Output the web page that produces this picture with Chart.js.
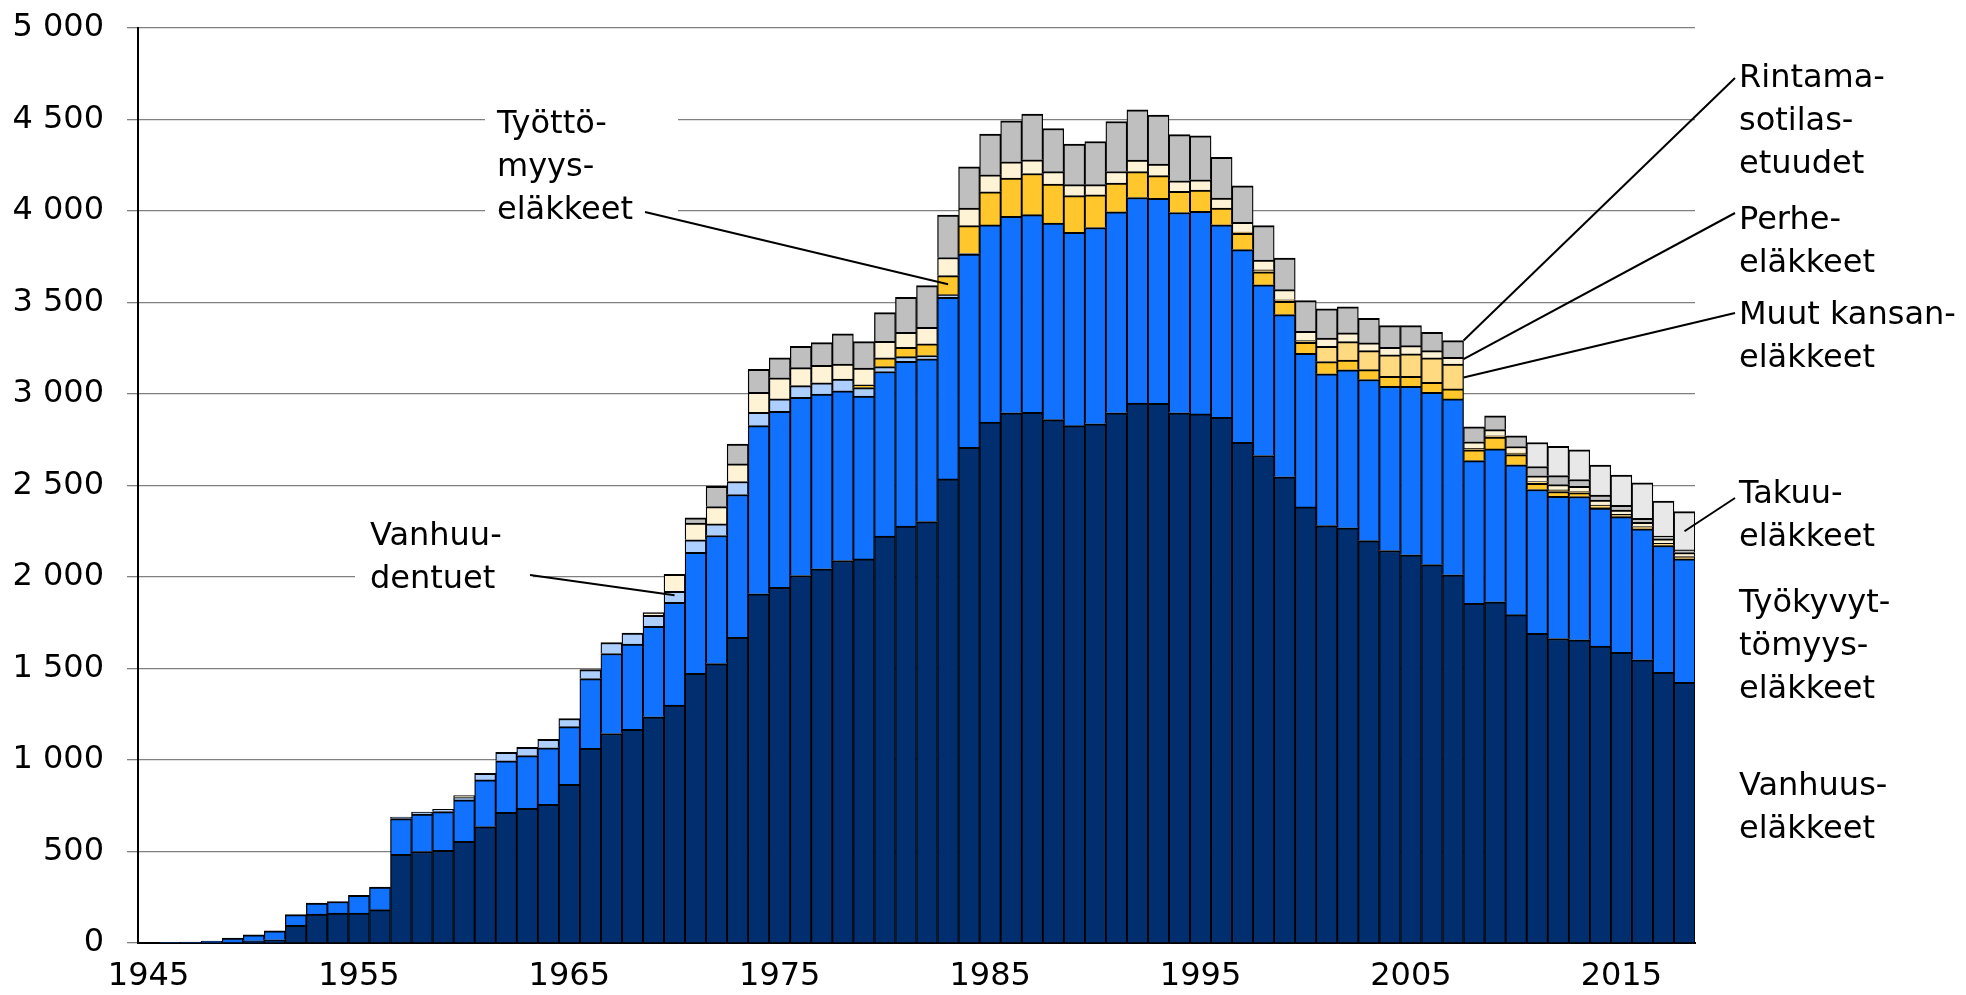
<!DOCTYPE html>
<html lang="fi">

<head>
    <meta charset="UTF-8">
    <title>Eläkkeensaajat 1945–2018</title>
    <script src="https://cdn.jsdelivr.net/npm/chart.js@4.4.1/dist/chart.umd.min.js"></script>
    <style>
        html, body {
            margin: 0;
            padding: 0;
            background: #fff;
        }

        #wrap {
            width: 1966px;
            height: 995px;
            position: relative;
        }
    </style>
</head>

<body>
    <div id="wrap">
        <canvas id="chart"></canvas>
    </div>

    <script>
        // vuodet 1945-2018
        const years = [];
        for (let y = 1945; y <= 2018; y++) years.push(String(y));

        // tuhatta henkilöä, luettu kuvasta
        const vanhuus = [null, 1, 1, 2, 5, 12, 18, 96, 158, 164,
            164, 182, 485, 500, 507, 555, 636, 714, 736, 758,
            867, 1064, 1145, 1167, 1236, 1300, 1473, 1527, 1670, 1908,
            1944, 2008, 2045, 2090, 2099, 2223, 2278, 2303, 2536, 2709,
            2846, 2897, 2900, 2860, 2827, 2837, 2897, 2951, 2949, 2897,
            2891, 2873, 2736, 2664, 2548, 2383, 2281, 2269, 2199, 2145,
            2121, 2068, 2012, 1856, 1865, 1794, 1692, 1664, 1657, 1623,
            1589, 1548, 1479, 1425];

        const tyokyvyttomyys = [null, 2, 4, 8, 22, 33, 49, 59, 60, 63,
            96, 123, 195, 204, 211, 227, 255, 282, 288, 309,
            315, 381, 437, 466, 495, 562, 662, 700, 781, 919,
            961, 974, 955, 928, 889, 900, 901, 889, 992, 1056,
            1078, 1074, 1080, 1074, 1056, 1073, 1099, 1123, 1120, 1095,
            1107, 1052, 1053, 933, 886, 839, 829, 863, 880, 897,
            921, 941, 961, 780, 835, 819, 786, 777, 783, 753,
            741, 715, 693, 674];

        const vanhuudentuet = [null, null, null, null, null, null, null, null, null, null,
            null, null, 8, 11, 13, 13, 36, 46, 45, 46,
            45, 49, 60, 61, 60, 60, 68, 63, 71, 73,
            68, 64, 61, 64, 47, 27, 25, 18, 15, 3,
            null, null, null, null, null, null, null, null, null, null,
            null, null, null, null, null, null, null, null, null, null,
            null, null, null, null, null, null, null, null, null, null,
            null, null, null, null];

        const tyottomyys = [null, null, null, null, null, null, null, null, null, null,
            null, null, null, null, null, null, null, null, null, null,
            null, null, null, null, null, null, null, null, null, null,
            null, null, null, null, 15, 48, 51, 64, 104, 152,
            181, 209, 225, 213, 201, 179, 157, 141, 124, 115,
            117, 91, 89, 71, 72, 60, 67, 54, 54, 55,
            55, 55, 55, 59, 64, 56, 34, 26, 20, 5,
            null, null, null, null];

        const muutKansan = [null, null, null, null, null, null, null, null, null, null,
            null, null, null, null, null, null, null, null, null, null,
            null, null, null, null, null, null, null, null, null, null,
            null, null, null, null, null, null, null, null, null, null,
            null, null, null, null, null, null, null, null, null, null,
            null, null, 7, 11, 9, 10, 84, 100, 104, 117,
            122, 133, 136, 8, 8, 8, 10, 9, 7, 12,
            12, 13, 12, 12];

        const perhe = [null, null, null, null, null, null, null, null, null, null,
            null, null, null, null, null, 10, null, null, null, null,
            null, null, null, null, 14, 92, 91, 95, 96, 109,
            116, 98, 96, 82, 92, 90, 82, 90, 99, 96,
            93, 89, 75, 68, 60, 55, 63, 63, 64, 58,
            56, 55, 53, 53, 55, 50, 45, 48, 42, 41,
            45, 40, 36, 36, 33, 36, 31, 29, 29, 28,
            24, 23, 25, 23];

        const rintama = [null, null, null, null, null, null, null, null, null, null,
            null, null, null, null, null, null, null, null, null, null,
            null, null, null, null, null, null, 29, 111, 109, 126,
            109, 116, 124, 165, 144, 157, 191, 228, 232, 226,
            223, 224, 250, 236, 222, 236, 273, 275, 267, 252,
            240, 222, 200, 188, 173, 168, 159, 143, 135, 119,
            110, 100, 92, 82, 76, 59, 51, 49, 37, 27,
            25, 22, 15, 14];

        const takuu = [null, null, null, null, null, null, null, null, null, null,
            null, null, null, null, null, null, null, null, null, null,
            null, null, null, null, null, null, null, null, null, null,
            null, null, null, null, null, null, null, null, null, null,
            null, null, null, null, null, null, null, null, null, null,
            null, null, null, null, null, null, null, null, null, null,
            null, null, null, null, null, null, 131, 160, 162, 164,
            166, 193, 191, 209];

        const yTicks = [0, 500, 1000, 1500, 2000, 2500, 3000, 3500, 4000, 4500, 5000];

        const FONT = 'DejaVu Sans';
        const LINE_H = 43;

        // selitetekstit ja niiden viivat
        const callouts = [
            { lines: ['Työttö-', 'myys-', 'eläkkeet'], x: 497, y: 125, box: [485, 102, 678, 232], from: [645, 212], year: '1983', value: 3600, edge: 0 },
            { lines: ['Vanhuu-', 'dentuet'], x: 370, y: 537, box: [355, 558, 533, 598], from: [530, 575], year: '1970', value: 1900, edge: 0 },
            { lines: ['Rintama-', 'sotilas-', 'etuudet'], x: 1739, y: 79, to: [1735, 78], year: '2007', value: 3292, edge: 0.5 },
            { lines: ['Perhe-', 'eläkkeet'], x: 1739, y: 221, to: [1735, 213], year: '2007', value: 3190, edge: 0.5 },
            { lines: ['Muut kansan-', 'eläkkeet'], x: 1739, y: 316, to: [1735, 313], year: '2007', value: 3090, edge: 0.5 },
            { lines: ['Takuu-', 'eläkkeet'], x: 1739, y: 495, to: [1735, 498], year: '2018', value: 2250, edge: 0 },
            { lines: ['Työkyvyt-', 'tömyys-', 'eläkkeet'], x: 1739, y: 604 },
            { lines: ['Vanhuus-', 'eläkkeet'], x: 1739, y: 787 }
        ];

        function fmt(v)
        {
            if (v < 1000) return String(v);
            return Math.floor(v / 1000) + ' ' + String(v % 1000).padStart(3, '0');
        }

        const calloutPlugin = {
            id: 'callouts',
            afterDraw(chart)
            {
                const c = chart.ctx;
                const xs = chart.scales.x, ys = chart.scales.y;
                const step = xs.getPixelForValue(1) - xs.getPixelForValue(0);
                c.save();
                c.font = '32px "' + FONT + '"';
                c.textBaseline = 'middle';
                c.textAlign = 'left';
                callouts.forEach(co =>
                {
                    if (co.box)
                    {
                        c.fillStyle = '#fff';
                        c.fillRect(co.box[0], co.box[1], co.box[2] - co.box[0], co.box[3] - co.box[1]);
                    }
                    if (co.year)
                    {
                        const idx = years.indexOf(co.year);
                        const bx = xs.getPixelForValue(idx) + co.edge * step;
                        const by = ys.getPixelForValue(co.value);
                        const p = co.from || co.to;
                        c.strokeStyle = '#000';
                        c.lineWidth = 2;
                        c.beginPath();
                        c.moveTo(p[0], p[1]);
                        c.lineTo(bx, by);
                        c.stroke();
                    }
                    c.fillStyle = '#000';
                    co.lines.forEach((t, i) => c.fillText(t, co.x, co.y + i * LINE_H));
                });
                c.restore();
            }
        };

        function series(label, data, color)
        {
            return {
                label: label,
                data: data,
                backgroundColor: color,
                borderColor: '#000',
                borderWidth: { top: 2, left: 1.3, right: 1.3, bottom: 0 },
                borderSkipped: false,
                barPercentage: 1,
                categoryPercentage: 1
            };
        }

        Chart.defaults.font.family = FONT;
        Chart.defaults.font.size = 32;
        Chart.defaults.color = '#000';

        new Chart(document.getElementById('chart'), {
            type: 'bar',
            data: {
                labels: years,
                datasets: [
                    series('Vanhuuseläkkeet', vanhuus, '#002E6E'),
                    series('Työkyvyttömyyseläkkeet', tyokyvyttomyys, '#1172FF'),
                    series('Vanhuudentuet', vanhuudentuet, '#ADCFFF'),
                    series('Työttömyyseläkkeet', tyottomyys, '#FFC72C'),
                    series('Muut kansaneläkkeet', muutKansan, '#FFDA80'),
                    series('Perhe-eläkkeet', perhe, '#FFF3D6'),
                    series('Rintamasotilasetuudet', rintama, '#BFBFBF'),
                    series('Takuueläkkeet', takuu, '#E8E8E8')
                ]
            },
            options: {
                responsive: true,
                maintainAspectRatio: false,
                animation: false,
                layout: {
                    padding: { left: 0, right: 271, top: 28, bottom: 0 }
                },
                plugins: {
                    legend: { display: false },
                    tooltip: { enabled: false }
                },
                scales: {
                    x: {
                        stacked: true,
                        grid: { display: false, drawTicks: false },
                        border: { display: true, color: '#000', width: 2 },
                        ticks: {
                            autoSkip: false,
                            maxRotation: 0,
                            minRotation: 0,
                            padding: 14,
                            callback: function (v, i)
                            {
                                const y = years[i];
                                return (Number(y) - 1945) % 10 === 0 ? y : '';
                            }
                        },
                        afterFit: function (s) { s.height = 52; }
                    },
                    y: {
                        stacked: true,
                        min: 0,
                        max: 5000,
                        afterBuildTicks: function (s) { s.ticks = yTicks.map(v => ({ value: v })); },
                        grid: { color: '#808080', lineWidth: 1.3, tickLength: 11, tickColor: '#808080' },
                        border: { display: true, color: '#000', width: 2 },
                        ticks: {
                            padding: 23,
                            callback: function (v) { return fmt(v); }
                        },
                        afterFit: function (s)
                        {
                            s.width = 138;
                            s.paddingTop = 0;
                            s.paddingBottom = 0;
                        }
                    }
                }
            },
            plugins: [calloutPlugin]
        });
    </script>
</body>

</html>
